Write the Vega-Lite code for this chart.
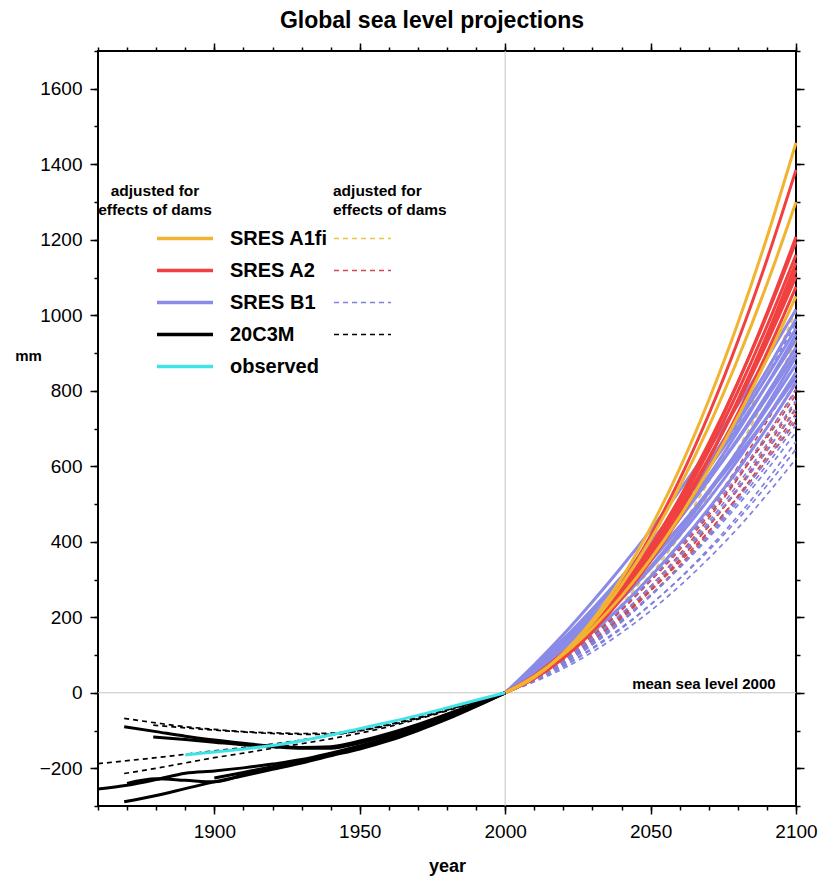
{
  "$schema": "https://vega.github.io/schema/vega-lite/v6.json",
  "width": 698,
  "height": 755,
  "autosize": {"type": "none"},
  "padding": {"left": 98, "top": 51, "right": 40, "bottom": 70},
  "background": "white",
  "title": {"text": "Global sea level projections", "font": "Liberation Sans", "fontSize": 23, "fontWeight": "bold", "color": "black", "anchor": "middle", "dx": -15, "frame": "group", "baseline": "alphabetic", "offset": -9},
  "config": {
    "view": {"stroke": "black", "strokeWidth": 2},
    "axis": {"domain": false, "grid": false, "tickColor": "black", "tickWidth": 1.5, "labelFont": "Liberation Sans", "labelFontSize": 19, "labelColor": "black", "titleFont": "Liberation Sans", "titleColor": "black", "labelFlush": false, "labelOverlap": false}
  },
  "datasets": {
    "solid": [
      {"scenario":"SRES B1","run":"B1a","year":2000,"mm":0},{"scenario":"SRES B1","run":"B1a","year":2010,"mm":74},{"scenario":"SRES B1","run":"B1a","year":2020,"mm":154},{"scenario":"SRES B1","run":"B1a","year":2030,"mm":241},{"scenario":"SRES B1","run":"B1a","year":2040,"mm":333},{"scenario":"SRES B1","run":"B1a","year":2050,"mm":431},{"scenario":"SRES B1","run":"B1a","year":2060,"mm":536},{"scenario":"SRES B1","run":"B1a","year":2070,"mm":647},{"scenario":"SRES B1","run":"B1a","year":2080,"mm":763},{"scenario":"SRES B1","run":"B1a","year":2090,"mm":886},{"scenario":"SRES B1","run":"B1a","year":2100,"mm":1015},
      {"scenario":"SRES B1","run":"B1b","year":2000,"mm":0},{"scenario":"SRES B1","run":"B1b","year":2010,"mm":63},{"scenario":"SRES B1","run":"B1b","year":2020,"mm":135},{"scenario":"SRES B1","run":"B1b","year":2030,"mm":214},{"scenario":"SRES B1","run":"B1b","year":2040,"mm":301},{"scenario":"SRES B1","run":"B1b","year":2050,"mm":396},{"scenario":"SRES B1","run":"B1b","year":2060,"mm":499},{"scenario":"SRES B1","run":"B1b","year":2070,"mm":610},{"scenario":"SRES B1","run":"B1b","year":2080,"mm":729},{"scenario":"SRES B1","run":"B1b","year":2090,"mm":855},{"scenario":"SRES B1","run":"B1b","year":2100,"mm":990},
      {"scenario":"SRES B1","run":"B1c","year":2000,"mm":0},{"scenario":"SRES B1","run":"B1c","year":2010,"mm":66},{"scenario":"SRES B1","run":"B1c","year":2020,"mm":139},{"scenario":"SRES B1","run":"B1c","year":2030,"mm":219},{"scenario":"SRES B1","run":"B1c","year":2040,"mm":305},{"scenario":"SRES B1","run":"B1c","year":2050,"mm":398},{"scenario":"SRES B1","run":"B1c","year":2060,"mm":498},{"scenario":"SRES B1","run":"B1c","year":2070,"mm":605},{"scenario":"SRES B1","run":"B1c","year":2080,"mm":718},{"scenario":"SRES B1","run":"B1c","year":2090,"mm":838},{"scenario":"SRES B1","run":"B1c","year":2100,"mm":965},
      {"scenario":"SRES B1","run":"B1d","year":2000,"mm":0},{"scenario":"SRES B1","run":"B1d","year":2010,"mm":57},{"scenario":"SRES B1","run":"B1d","year":2020,"mm":122},{"scenario":"SRES B1","run":"B1d","year":2030,"mm":195},{"scenario":"SRES B1","run":"B1d","year":2040,"mm":277},{"scenario":"SRES B1","run":"B1d","year":2050,"mm":368},{"scenario":"SRES B1","run":"B1d","year":2060,"mm":467},{"scenario":"SRES B1","run":"B1d","year":2070,"mm":575},{"scenario":"SRES B1","run":"B1d","year":2080,"mm":692},{"scenario":"SRES B1","run":"B1d","year":2090,"mm":817},{"scenario":"SRES B1","run":"B1d","year":2100,"mm":950},
      {"scenario":"SRES B1","run":"B1e","year":2000,"mm":0},{"scenario":"SRES B1","run":"B1e","year":2010,"mm":68},{"scenario":"SRES B1","run":"B1e","year":2020,"mm":142},{"scenario":"SRES B1","run":"B1e","year":2030,"mm":222},{"scenario":"SRES B1","run":"B1e","year":2040,"mm":307},{"scenario":"SRES B1","run":"B1e","year":2050,"mm":397},{"scenario":"SRES B1","run":"B1e","year":2060,"mm":494},{"scenario":"SRES B1","run":"B1e","year":2070,"mm":596},{"scenario":"SRES B1","run":"B1e","year":2080,"mm":703},{"scenario":"SRES B1","run":"B1e","year":2090,"mm":816},{"scenario":"SRES B1","run":"B1e","year":2100,"mm":935},
      {"scenario":"SRES B1","run":"B1f","year":2000,"mm":0},{"scenario":"SRES B1","run":"B1f","year":2010,"mm":59},{"scenario":"SRES B1","run":"B1f","year":2020,"mm":124},{"scenario":"SRES B1","run":"B1f","year":2030,"mm":198},{"scenario":"SRES B1","run":"B1f","year":2040,"mm":278},{"scenario":"SRES B1","run":"B1f","year":2050,"mm":366},{"scenario":"SRES B1","run":"B1f","year":2060,"mm":461},{"scenario":"SRES B1","run":"B1f","year":2070,"mm":564},{"scenario":"SRES B1","run":"B1f","year":2080,"mm":673},{"scenario":"SRES B1","run":"B1f","year":2090,"mm":791},{"scenario":"SRES B1","run":"B1f","year":2100,"mm":915},
      {"scenario":"SRES B1","run":"B1g","year":2000,"mm":0},{"scenario":"SRES B1","run":"B1g","year":2010,"mm":62},{"scenario":"SRES B1","run":"B1g","year":2020,"mm":130},{"scenario":"SRES B1","run":"B1g","year":2030,"mm":204},{"scenario":"SRES B1","run":"B1g","year":2040,"mm":284},{"scenario":"SRES B1","run":"B1g","year":2050,"mm":371},{"scenario":"SRES B1","run":"B1g","year":2060,"mm":464},{"scenario":"SRES B1","run":"B1g","year":2070,"mm":564},{"scenario":"SRES B1","run":"B1g","year":2080,"mm":670},{"scenario":"SRES B1","run":"B1g","year":2090,"mm":782},{"scenario":"SRES B1","run":"B1g","year":2100,"mm":900},
      {"scenario":"SRES B1","run":"B1h","year":2000,"mm":0},{"scenario":"SRES B1","run":"B1h","year":2010,"mm":49},{"scenario":"SRES B1","run":"B1h","year":2020,"mm":107},{"scenario":"SRES B1","run":"B1h","year":2030,"mm":174},{"scenario":"SRES B1","run":"B1h","year":2040,"mm":249},{"scenario":"SRES B1","run":"B1h","year":2050,"mm":334},{"scenario":"SRES B1","run":"B1h","year":2060,"mm":427},{"scenario":"SRES B1","run":"B1h","year":2070,"mm":530},{"scenario":"SRES B1","run":"B1h","year":2080,"mm":641},{"scenario":"SRES B1","run":"B1h","year":2090,"mm":761},{"scenario":"SRES B1","run":"B1h","year":2100,"mm":890},
      {"scenario":"SRES B1","run":"B1i","year":2000,"mm":0},{"scenario":"SRES B1","run":"B1i","year":2010,"mm":56},{"scenario":"SRES B1","run":"B1i","year":2020,"mm":118},{"scenario":"SRES B1","run":"B1i","year":2030,"mm":188},{"scenario":"SRES B1","run":"B1i","year":2040,"mm":264},{"scenario":"SRES B1","run":"B1i","year":2050,"mm":348},{"scenario":"SRES B1","run":"B1i","year":2060,"mm":438},{"scenario":"SRES B1","run":"B1i","year":2070,"mm":536},{"scenario":"SRES B1","run":"B1i","year":2080,"mm":640},{"scenario":"SRES B1","run":"B1i","year":2090,"mm":752},{"scenario":"SRES B1","run":"B1i","year":2100,"mm":870},
      {"scenario":"SRES B1","run":"B1j","year":2000,"mm":0},{"scenario":"SRES B1","run":"B1j","year":2010,"mm":50},{"scenario":"SRES B1","run":"B1j","year":2020,"mm":109},{"scenario":"SRES B1","run":"B1j","year":2030,"mm":174},{"scenario":"SRES B1","run":"B1j","year":2040,"mm":248},{"scenario":"SRES B1","run":"B1j","year":2050,"mm":329},{"scenario":"SRES B1","run":"B1j","year":2060,"mm":417},{"scenario":"SRES B1","run":"B1j","year":2070,"mm":513},{"scenario":"SRES B1","run":"B1j","year":2080,"mm":617},{"scenario":"SRES B1","run":"B1j","year":2090,"mm":729},{"scenario":"SRES B1","run":"B1j","year":2100,"mm":848},
      {"scenario":"SRES B1","run":"B1k","year":2000,"mm":0},{"scenario":"SRES B1","run":"B1k","year":2010,"mm":61},{"scenario":"SRES B1","run":"B1k","year":2020,"mm":127},{"scenario":"SRES B1","run":"B1k","year":2030,"mm":198},{"scenario":"SRES B1","run":"B1k","year":2040,"mm":274},{"scenario":"SRES B1","run":"B1k","year":2050,"mm":355},{"scenario":"SRES B1","run":"B1k","year":2060,"mm":441},{"scenario":"SRES B1","run":"B1k","year":2070,"mm":532},{"scenario":"SRES B1","run":"B1k","year":2080,"mm":628},{"scenario":"SRES B1","run":"B1k","year":2090,"mm":729},{"scenario":"SRES B1","run":"B1k","year":2100,"mm":835},
      {"scenario":"SRES B1","run":"B1l","year":2000,"mm":0},{"scenario":"SRES B1","run":"B1l","year":2010,"mm":45},{"scenario":"SRES B1","run":"B1l","year":2020,"mm":99},{"scenario":"SRES B1","run":"B1l","year":2030,"mm":160},{"scenario":"SRES B1","run":"B1l","year":2040,"mm":230},{"scenario":"SRES B1","run":"B1l","year":2050,"mm":308},{"scenario":"SRES B1","run":"B1l","year":2060,"mm":394},{"scenario":"SRES B1","run":"B1l","year":2070,"mm":488},{"scenario":"SRES B1","run":"B1l","year":2080,"mm":591},{"scenario":"SRES B1","run":"B1l","year":2090,"mm":702},{"scenario":"SRES B1","run":"B1l","year":2100,"mm":821},
      {"scenario":"SRES A2","run":"R1","year":2000,"mm":0},{"scenario":"SRES A2","run":"R1","year":2010,"mm":39},{"scenario":"SRES A2","run":"R1","year":2020,"mm":100},{"scenario":"SRES A2","run":"R1","year":2030,"mm":183},{"scenario":"SRES A2","run":"R1","year":2040,"mm":288},{"scenario":"SRES A2","run":"R1","year":2050,"mm":416},{"scenario":"SRES A2","run":"R1","year":2060,"mm":565},{"scenario":"SRES A2","run":"R1","year":2070,"mm":737},{"scenario":"SRES A2","run":"R1","year":2080,"mm":931},{"scenario":"SRES A2","run":"R1","year":2090,"mm":1147},{"scenario":"SRES A2","run":"R1","year":2100,"mm":1385},
      {"scenario":"SRES A2","run":"R2","year":2000,"mm":0},{"scenario":"SRES A2","run":"R2","year":2010,"mm":39},{"scenario":"SRES A2","run":"R2","year":2020,"mm":97},{"scenario":"SRES A2","run":"R2","year":2030,"mm":172},{"scenario":"SRES A2","run":"R2","year":2040,"mm":266},{"scenario":"SRES A2","run":"R2","year":2050,"mm":378},{"scenario":"SRES A2","run":"R2","year":2060,"mm":507},{"scenario":"SRES A2","run":"R2","year":2070,"mm":655},{"scenario":"SRES A2","run":"R2","year":2080,"mm":821},{"scenario":"SRES A2","run":"R2","year":2090,"mm":1006},{"scenario":"SRES A2","run":"R2","year":2100,"mm":1208},
      {"scenario":"SRES A2","run":"R3","year":2000,"mm":0},{"scenario":"SRES A2","run":"R3","year":2010,"mm":44},{"scenario":"SRES A2","run":"R3","year":2020,"mm":105},{"scenario":"SRES A2","run":"R3","year":2030,"mm":183},{"scenario":"SRES A2","run":"R3","year":2040,"mm":277},{"scenario":"SRES A2","run":"R3","year":2050,"mm":388},{"scenario":"SRES A2","run":"R3","year":2060,"mm":516},{"scenario":"SRES A2","run":"R3","year":2070,"mm":661},{"scenario":"SRES A2","run":"R3","year":2080,"mm":822},{"scenario":"SRES A2","run":"R3","year":2090,"mm":1000},{"scenario":"SRES A2","run":"R3","year":2100,"mm":1195},
      {"scenario":"SRES A2","run":"R4","year":2000,"mm":0},{"scenario":"SRES A2","run":"R4","year":2010,"mm":43},{"scenario":"SRES A2","run":"R4","year":2020,"mm":102},{"scenario":"SRES A2","run":"R4","year":2030,"mm":177},{"scenario":"SRES A2","run":"R4","year":2040,"mm":269},{"scenario":"SRES A2","run":"R4","year":2050,"mm":377},{"scenario":"SRES A2","run":"R4","year":2060,"mm":501},{"scenario":"SRES A2","run":"R4","year":2070,"mm":641},{"scenario":"SRES A2","run":"R4","year":2080,"mm":798},{"scenario":"SRES A2","run":"R4","year":2090,"mm":971},{"scenario":"SRES A2","run":"R4","year":2100,"mm":1160},
      {"scenario":"SRES A2","run":"R5","year":2000,"mm":0},{"scenario":"SRES A2","run":"R5","year":2010,"mm":37},{"scenario":"SRES A2","run":"R5","year":2020,"mm":91},{"scenario":"SRES A2","run":"R5","year":2030,"mm":162},{"scenario":"SRES A2","run":"R5","year":2040,"mm":251},{"scenario":"SRES A2","run":"R5","year":2050,"mm":356},{"scenario":"SRES A2","run":"R5","year":2060,"mm":478},{"scenario":"SRES A2","run":"R5","year":2070,"mm":618},{"scenario":"SRES A2","run":"R5","year":2080,"mm":775},{"scenario":"SRES A2","run":"R5","year":2090,"mm":948},{"scenario":"SRES A2","run":"R5","year":2100,"mm":1139},
      {"scenario":"SRES A2","run":"R6","year":2000,"mm":0},{"scenario":"SRES A2","run":"R6","year":2010,"mm":41},{"scenario":"SRES A2","run":"R6","year":2020,"mm":99},{"scenario":"SRES A2","run":"R6","year":2030,"mm":171},{"scenario":"SRES A2","run":"R6","year":2040,"mm":260},{"scenario":"SRES A2","run":"R6","year":2050,"mm":364},{"scenario":"SRES A2","run":"R6","year":2060,"mm":484},{"scenario":"SRES A2","run":"R6","year":2070,"mm":619},{"scenario":"SRES A2","run":"R6","year":2080,"mm":771},{"scenario":"SRES A2","run":"R6","year":2090,"mm":937},{"scenario":"SRES A2","run":"R6","year":2100,"mm":1120},
      {"scenario":"SRES A2","run":"R7","year":2000,"mm":0},{"scenario":"SRES A2","run":"R7","year":2010,"mm":46},{"scenario":"SRES A2","run":"R7","year":2020,"mm":106},{"scenario":"SRES A2","run":"R7","year":2030,"mm":180},{"scenario":"SRES A2","run":"R7","year":2040,"mm":269},{"scenario":"SRES A2","run":"R7","year":2050,"mm":372},{"scenario":"SRES A2","run":"R7","year":2060,"mm":489},{"scenario":"SRES A2","run":"R7","year":2070,"mm":621},{"scenario":"SRES A2","run":"R7","year":2080,"mm":767},{"scenario":"SRES A2","run":"R7","year":2090,"mm":927},{"scenario":"SRES A2","run":"R7","year":2100,"mm":1102},
      {"scenario":"SRES A2","run":"R8","year":2000,"mm":0},{"scenario":"SRES A2","run":"R8","year":2010,"mm":40},{"scenario":"SRES A2","run":"R8","year":2020,"mm":95},{"scenario":"SRES A2","run":"R8","year":2030,"mm":164},{"scenario":"SRES A2","run":"R8","year":2040,"mm":249},{"scenario":"SRES A2","run":"R8","year":2050,"mm":349},{"scenario":"SRES A2","run":"R8","year":2060,"mm":464},{"scenario":"SRES A2","run":"R8","year":2070,"mm":594},{"scenario":"SRES A2","run":"R8","year":2080,"mm":740},{"scenario":"SRES A2","run":"R8","year":2090,"mm":900},{"scenario":"SRES A2","run":"R8","year":2100,"mm":1075},
      {"scenario":"SRES A1fi","run":"G1","year":2000,"mm":0},{"scenario":"SRES A1fi","run":"G1","year":2010,"mm":41},{"scenario":"SRES A1fi","run":"G1","year":2020,"mm":105},{"scenario":"SRES A1fi","run":"G1","year":2030,"mm":192},{"scenario":"SRES A1fi","run":"G1","year":2040,"mm":303},{"scenario":"SRES A1fi","run":"G1","year":2050,"mm":437},{"scenario":"SRES A1fi","run":"G1","year":2060,"mm":594},{"scenario":"SRES A1fi","run":"G1","year":2070,"mm":775},{"scenario":"SRES A1fi","run":"G1","year":2080,"mm":979},{"scenario":"SRES A1fi","run":"G1","year":2090,"mm":1206},{"scenario":"SRES A1fi","run":"G1","year":2100,"mm":1457},
      {"scenario":"SRES A1fi","run":"G2","year":2000,"mm":0},{"scenario":"SRES A1fi","run":"G2","year":2010,"mm":42},{"scenario":"SRES A1fi","run":"G2","year":2020,"mm":104},{"scenario":"SRES A1fi","run":"G2","year":2030,"mm":185},{"scenario":"SRES A1fi","run":"G2","year":2040,"mm":286},{"scenario":"SRES A1fi","run":"G2","year":2050,"mm":406},{"scenario":"SRES A1fi","run":"G2","year":2060,"mm":546},{"scenario":"SRES A1fi","run":"G2","year":2070,"mm":705},{"scenario":"SRES A1fi","run":"G2","year":2080,"mm":884},{"scenario":"SRES A1fi","run":"G2","year":2090,"mm":1082},{"scenario":"SRES A1fi","run":"G2","year":2100,"mm":1300},
      {"scenario":"SRES A1fi","run":"G3","year":2000,"mm":0},{"scenario":"SRES A1fi","run":"G3","year":2010,"mm":44},{"scenario":"SRES A1fi","run":"G3","year":2020,"mm":101},{"scenario":"SRES A1fi","run":"G3","year":2030,"mm":172},{"scenario":"SRES A1fi","run":"G3","year":2040,"mm":256},{"scenario":"SRES A1fi","run":"G3","year":2050,"mm":354},{"scenario":"SRES A1fi","run":"G3","year":2060,"mm":466},{"scenario":"SRES A1fi","run":"G3","year":2070,"mm":592},{"scenario":"SRES A1fi","run":"G3","year":2080,"mm":731},{"scenario":"SRES A1fi","run":"G3","year":2090,"mm":884},{"scenario":"SRES A1fi","run":"G3","year":2100,"mm":1050},
      {"scenario":"20C3M","run":"H1","year":1869,"mm":-90},{"scenario":"20C3M","run":"H1","year":1880,"mm":-103},{"scenario":"20C3M","run":"H1","year":1890,"mm":-115},{"scenario":"20C3M","run":"H1","year":1900,"mm":-125},{"scenario":"20C3M","run":"H1","year":1910,"mm":-134},{"scenario":"20C3M","run":"H1","year":1920,"mm":-141},{"scenario":"20C3M","run":"H1","year":1930,"mm":-145},{"scenario":"20C3M","run":"H1","year":1940,"mm":-143},{"scenario":"20C3M","run":"H1","year":1950,"mm":-128},{"scenario":"20C3M","run":"H1","year":1960,"mm":-108},{"scenario":"20C3M","run":"H1","year":1970,"mm":-84},{"scenario":"20C3M","run":"H1","year":1980,"mm":-57},{"scenario":"20C3M","run":"H1","year":1990,"mm":-29},{"scenario":"20C3M","run":"H1","year":2000,"mm":0},
      {"scenario":"20C3M","run":"H2","year":1879,"mm":-117},{"scenario":"20C3M","run":"H2","year":1890,"mm":-124},{"scenario":"20C3M","run":"H2","year":1900,"mm":-131},{"scenario":"20C3M","run":"H2","year":1910,"mm":-138},{"scenario":"20C3M","run":"H2","year":1920,"mm":-143},{"scenario":"20C3M","run":"H2","year":1930,"mm":-147},{"scenario":"20C3M","run":"H2","year":1940,"mm":-147},{"scenario":"20C3M","run":"H2","year":1950,"mm":-133},{"scenario":"20C3M","run":"H2","year":1960,"mm":-113},{"scenario":"20C3M","run":"H2","year":1970,"mm":-89},{"scenario":"20C3M","run":"H2","year":1980,"mm":-61},{"scenario":"20C3M","run":"H2","year":1990,"mm":-31},{"scenario":"20C3M","run":"H2","year":2000,"mm":0},
      {"scenario":"20C3M","run":"H3","year":1860,"mm":-255},{"scenario":"20C3M","run":"H3","year":1870,"mm":-245},{"scenario":"20C3M","run":"H3","year":1880,"mm":-230},{"scenario":"20C3M","run":"H3","year":1890,"mm":-213},{"scenario":"20C3M","run":"H3","year":1900,"mm":-207},{"scenario":"20C3M","run":"H3","year":1910,"mm":-199},{"scenario":"20C3M","run":"H3","year":1920,"mm":-189},{"scenario":"20C3M","run":"H3","year":1930,"mm":-177},{"scenario":"20C3M","run":"H3","year":1940,"mm":-160},{"scenario":"20C3M","run":"H3","year":1950,"mm":-141},{"scenario":"20C3M","run":"H3","year":1960,"mm":-119},{"scenario":"20C3M","run":"H3","year":1970,"mm":-93},{"scenario":"20C3M","run":"H3","year":1980,"mm":-65},{"scenario":"20C3M","run":"H3","year":1990,"mm":-33},{"scenario":"20C3M","run":"H3","year":2000,"mm":0},
      {"scenario":"20C3M","run":"H4","year":1870,"mm":-240},{"scenario":"20C3M","run":"H4","year":1880,"mm":-228},{"scenario":"20C3M","run":"H4","year":1890,"mm":-232},{"scenario":"20C3M","run":"H4","year":1900,"mm":-236},{"scenario":"20C3M","run":"H4","year":1910,"mm":-218},{"scenario":"20C3M","run":"H4","year":1920,"mm":-200},{"scenario":"20C3M","run":"H4","year":1930,"mm":-182},{"scenario":"20C3M","run":"H4","year":1940,"mm":-164},{"scenario":"20C3M","run":"H4","year":1950,"mm":-146},{"scenario":"20C3M","run":"H4","year":1960,"mm":-124},{"scenario":"20C3M","run":"H4","year":1970,"mm":-97},{"scenario":"20C3M","run":"H4","year":1980,"mm":-68},{"scenario":"20C3M","run":"H4","year":1990,"mm":-35},{"scenario":"20C3M","run":"H4","year":2000,"mm":0},
      {"scenario":"20C3M","run":"H5","year":1869,"mm":-289},{"scenario":"20C3M","run":"H5","year":1880,"mm":-272},{"scenario":"20C3M","run":"H5","year":1890,"mm":-254},{"scenario":"20C3M","run":"H5","year":1900,"mm":-236},{"scenario":"20C3M","run":"H5","year":1910,"mm":-220},{"scenario":"20C3M","run":"H5","year":1920,"mm":-203},{"scenario":"20C3M","run":"H5","year":1930,"mm":-186},{"scenario":"20C3M","run":"H5","year":1940,"mm":-167},{"scenario":"20C3M","run":"H5","year":1950,"mm":-149},{"scenario":"20C3M","run":"H5","year":1960,"mm":-127},{"scenario":"20C3M","run":"H5","year":1970,"mm":-100},{"scenario":"20C3M","run":"H5","year":1980,"mm":-70},{"scenario":"20C3M","run":"H5","year":1990,"mm":-36},{"scenario":"20C3M","run":"H5","year":2000,"mm":0},
      {"scenario":"20C3M","run":"H6","year":1900,"mm":-226},{"scenario":"20C3M","run":"H6","year":1910,"mm":-211},{"scenario":"20C3M","run":"H6","year":1920,"mm":-196},{"scenario":"20C3M","run":"H6","year":1930,"mm":-180},{"scenario":"20C3M","run":"H6","year":1940,"mm":-162},{"scenario":"20C3M","run":"H6","year":1950,"mm":-144},{"scenario":"20C3M","run":"H6","year":1960,"mm":-122},{"scenario":"20C3M","run":"H6","year":1970,"mm":-96},{"scenario":"20C3M","run":"H6","year":1980,"mm":-67},{"scenario":"20C3M","run":"H6","year":1990,"mm":-34},{"scenario":"20C3M","run":"H6","year":2000,"mm":0},
      {"scenario":"observed","run":"OBS","year":1890,"mm":-165},{"scenario":"observed","run":"OBS","year":1900,"mm":-157},{"scenario":"observed","run":"OBS","year":1910,"mm":-149},{"scenario":"observed","run":"OBS","year":1920,"mm":-140},{"scenario":"observed","run":"OBS","year":1930,"mm":-127},{"scenario":"observed","run":"OBS","year":1940,"mm":-112},{"scenario":"observed","run":"OBS","year":1950,"mm":-95},{"scenario":"observed","run":"OBS","year":1960,"mm":-78},{"scenario":"observed","run":"OBS","year":1970,"mm":-60},{"scenario":"observed","run":"OBS","year":1980,"mm":-40},{"scenario":"observed","run":"OBS","year":1990,"mm":-20},{"scenario":"observed","run":"OBS","year":2000,"mm":0}
    ],
    "dashed": [
      {"scenario":"SRES A1fi","run":"GD1","year":2000,"mm":0},{"scenario":"SRES A1fi","run":"GD1","year":2010,"mm":37},{"scenario":"SRES A1fi","run":"GD1","year":2020,"mm":89},{"scenario":"SRES A1fi","run":"GD1","year":2030,"mm":155},{"scenario":"SRES A1fi","run":"GD1","year":2040,"mm":234},{"scenario":"SRES A1fi","run":"GD1","year":2050,"mm":328},{"scenario":"SRES A1fi","run":"GD1","year":2060,"mm":436},{"scenario":"SRES A1fi","run":"GD1","year":2070,"mm":559},{"scenario":"SRES A1fi","run":"GD1","year":2080,"mm":695},{"scenario":"SRES A1fi","run":"GD1","year":2090,"mm":845},{"scenario":"SRES A1fi","run":"GD1","year":2100,"mm":1010},
      {"scenario":"SRES A1fi","run":"GD2","year":2000,"mm":0},{"scenario":"SRES A1fi","run":"GD2","year":2010,"mm":39},{"scenario":"SRES A1fi","run":"GD2","year":2020,"mm":89},{"scenario":"SRES A1fi","run":"GD2","year":2030,"mm":152},{"scenario":"SRES A1fi","run":"GD2","year":2040,"mm":227},{"scenario":"SRES A1fi","run":"GD2","year":2050,"mm":314},{"scenario":"SRES A1fi","run":"GD2","year":2060,"mm":413},{"scenario":"SRES A1fi","run":"GD2","year":2070,"mm":524},{"scenario":"SRES A1fi","run":"GD2","year":2080,"mm":647},{"scenario":"SRES A1fi","run":"GD2","year":2090,"mm":783},{"scenario":"SRES A1fi","run":"GD2","year":2100,"mm":930},
      {"scenario":"SRES A2","run":"RD1","year":2000,"mm":0},{"scenario":"SRES A2","run":"RD1","year":2010,"mm":39},{"scenario":"SRES A2","run":"RD1","year":2020,"mm":88},{"scenario":"SRES A2","run":"RD1","year":2030,"mm":148},{"scenario":"SRES A2","run":"RD1","year":2040,"mm":218},{"scenario":"SRES A2","run":"RD1","year":2050,"mm":298},{"scenario":"SRES A2","run":"RD1","year":2060,"mm":388},{"scenario":"SRES A2","run":"RD1","year":2070,"mm":488},{"scenario":"SRES A2","run":"RD1","year":2080,"mm":598},{"scenario":"SRES A2","run":"RD1","year":2090,"mm":719},{"scenario":"SRES A2","run":"RD1","year":2100,"mm":850},
      {"scenario":"SRES A2","run":"RD2","year":2000,"mm":0},{"scenario":"SRES A2","run":"RD2","year":2010,"mm":42},{"scenario":"SRES A2","run":"RD2","year":2020,"mm":92},{"scenario":"SRES A2","run":"RD2","year":2030,"mm":152},{"scenario":"SRES A2","run":"RD2","year":2040,"mm":221},{"scenario":"SRES A2","run":"RD2","year":2050,"mm":299},{"scenario":"SRES A2","run":"RD2","year":2060,"mm":386},{"scenario":"SRES A2","run":"RD2","year":2070,"mm":482},{"scenario":"SRES A2","run":"RD2","year":2080,"mm":587},{"scenario":"SRES A2","run":"RD2","year":2090,"mm":702},{"scenario":"SRES A2","run":"RD2","year":2100,"mm":825},
      {"scenario":"SRES A2","run":"RD3","year":2000,"mm":0},{"scenario":"SRES A2","run":"RD3","year":2010,"mm":37},{"scenario":"SRES A2","run":"RD3","year":2020,"mm":84},{"scenario":"SRES A2","run":"RD3","year":2030,"mm":140},{"scenario":"SRES A2","run":"RD3","year":2040,"mm":206},{"scenario":"SRES A2","run":"RD3","year":2050,"mm":282},{"scenario":"SRES A2","run":"RD3","year":2060,"mm":367},{"scenario":"SRES A2","run":"RD3","year":2070,"mm":462},{"scenario":"SRES A2","run":"RD3","year":2080,"mm":567},{"scenario":"SRES A2","run":"RD3","year":2090,"mm":681},{"scenario":"SRES A2","run":"RD3","year":2100,"mm":805},
      {"scenario":"SRES A2","run":"RD4","year":2000,"mm":0},{"scenario":"SRES A2","run":"RD4","year":2010,"mm":43},{"scenario":"SRES A2","run":"RD4","year":2020,"mm":95},{"scenario":"SRES A2","run":"RD4","year":2030,"mm":154},{"scenario":"SRES A2","run":"RD4","year":2040,"mm":221},{"scenario":"SRES A2","run":"RD4","year":2050,"mm":296},{"scenario":"SRES A2","run":"RD4","year":2060,"mm":379},{"scenario":"SRES A2","run":"RD4","year":2070,"mm":470},{"scenario":"SRES A2","run":"RD4","year":2080,"mm":569},{"scenario":"SRES A2","run":"RD4","year":2090,"mm":675},{"scenario":"SRES A2","run":"RD4","year":2100,"mm":790},
      {"scenario":"SRES A2","run":"RD5","year":2000,"mm":0},{"scenario":"SRES A2","run":"RD5","year":2010,"mm":35},{"scenario":"SRES A2","run":"RD5","year":2020,"mm":80},{"scenario":"SRES A2","run":"RD5","year":2030,"mm":134},{"scenario":"SRES A2","run":"RD5","year":2040,"mm":197},{"scenario":"SRES A2","run":"RD5","year":2050,"mm":270},{"scenario":"SRES A2","run":"RD5","year":2060,"mm":351},{"scenario":"SRES A2","run":"RD5","year":2070,"mm":442},{"scenario":"SRES A2","run":"RD5","year":2080,"mm":542},{"scenario":"SRES A2","run":"RD5","year":2090,"mm":651},{"scenario":"SRES A2","run":"RD5","year":2100,"mm":770},
      {"scenario":"SRES A2","run":"RD6","year":2000,"mm":0},{"scenario":"SRES A2","run":"RD6","year":2010,"mm":38},{"scenario":"SRES A2","run":"RD6","year":2020,"mm":85},{"scenario":"SRES A2","run":"RD6","year":2030,"mm":139},{"scenario":"SRES A2","run":"RD6","year":2040,"mm":202},{"scenario":"SRES A2","run":"RD6","year":2050,"mm":274},{"scenario":"SRES A2","run":"RD6","year":2060,"mm":353},{"scenario":"SRES A2","run":"RD6","year":2070,"mm":441},{"scenario":"SRES A2","run":"RD6","year":2080,"mm":538},{"scenario":"SRES A2","run":"RD6","year":2090,"mm":642},{"scenario":"SRES A2","run":"RD6","year":2100,"mm":755},
      {"scenario":"SRES A2","run":"RD7","year":2000,"mm":0},{"scenario":"SRES A2","run":"RD7","year":2010,"mm":34},{"scenario":"SRES A2","run":"RD7","year":2020,"mm":77},{"scenario":"SRES A2","run":"RD7","year":2030,"mm":129},{"scenario":"SRES A2","run":"RD7","year":2040,"mm":189},{"scenario":"SRES A2","run":"RD7","year":2050,"mm":259},{"scenario":"SRES A2","run":"RD7","year":2060,"mm":337},{"scenario":"SRES A2","run":"RD7","year":2070,"mm":425},{"scenario":"SRES A2","run":"RD7","year":2080,"mm":521},{"scenario":"SRES A2","run":"RD7","year":2090,"mm":626},{"scenario":"SRES A2","run":"RD7","year":2100,"mm":740},
      {"scenario":"SRES A2","run":"RD8","year":2000,"mm":0},{"scenario":"SRES A2","run":"RD8","year":2010,"mm":40},{"scenario":"SRES A2","run":"RD8","year":2020,"mm":86},{"scenario":"SRES A2","run":"RD8","year":2030,"mm":140},{"scenario":"SRES A2","run":"RD8","year":2040,"mm":202},{"scenario":"SRES A2","run":"RD8","year":2050,"mm":270},{"scenario":"SRES A2","run":"RD8","year":2060,"mm":346},{"scenario":"SRES A2","run":"RD8","year":2070,"mm":428},{"scenario":"SRES A2","run":"RD8","year":2080,"mm":518},{"scenario":"SRES A2","run":"RD8","year":2090,"mm":616},{"scenario":"SRES A2","run":"RD8","year":2100,"mm":720},
      {"scenario":"SRES B1","run":"BD1","year":2000,"mm":0},{"scenario":"SRES B1","run":"BD1","year":2010,"mm":58},{"scenario":"SRES B1","run":"BD1","year":2020,"mm":125},{"scenario":"SRES B1","run":"BD1","year":2030,"mm":201},{"scenario":"SRES B1","run":"BD1","year":2040,"mm":286},{"scenario":"SRES B1","run":"BD1","year":2050,"mm":380},{"scenario":"SRES B1","run":"BD1","year":2060,"mm":482},{"scenario":"SRES B1","run":"BD1","year":2070,"mm":593},{"scenario":"SRES B1","run":"BD1","year":2080,"mm":713},{"scenario":"SRES B1","run":"BD1","year":2090,"mm":842},{"scenario":"SRES B1","run":"BD1","year":2100,"mm":980},
      {"scenario":"SRES B1","run":"BD2","year":2000,"mm":0},{"scenario":"SRES B1","run":"BD2","year":2010,"mm":44},{"scenario":"SRES B1","run":"BD2","year":2020,"mm":96},{"scenario":"SRES B1","run":"BD2","year":2030,"mm":156},{"scenario":"SRES B1","run":"BD2","year":2040,"mm":224},{"scenario":"SRES B1","run":"BD2","year":2050,"mm":300},{"scenario":"SRES B1","run":"BD2","year":2060,"mm":384},{"scenario":"SRES B1","run":"BD2","year":2070,"mm":476},{"scenario":"SRES B1","run":"BD2","year":2080,"mm":576},{"scenario":"SRES B1","run":"BD2","year":2090,"mm":684},{"scenario":"SRES B1","run":"BD2","year":2100,"mm":800},
      {"scenario":"SRES B1","run":"BD3","year":2000,"mm":0},{"scenario":"SRES B1","run":"BD3","year":2010,"mm":39},{"scenario":"SRES B1","run":"BD3","year":2020,"mm":87},{"scenario":"SRES B1","run":"BD3","year":2030,"mm":143},{"scenario":"SRES B1","run":"BD3","year":2040,"mm":208},{"scenario":"SRES B1","run":"BD3","year":2050,"mm":281},{"scenario":"SRES B1","run":"BD3","year":2060,"mm":363},{"scenario":"SRES B1","run":"BD3","year":2070,"mm":453},{"scenario":"SRES B1","run":"BD3","year":2080,"mm":552},{"scenario":"SRES B1","run":"BD3","year":2090,"mm":659},{"scenario":"SRES B1","run":"BD3","year":2100,"mm":775},
      {"scenario":"SRES B1","run":"BD4","year":2000,"mm":0},{"scenario":"SRES B1","run":"BD4","year":2010,"mm":41},{"scenario":"SRES B1","run":"BD4","year":2020,"mm":90},{"scenario":"SRES B1","run":"BD4","year":2030,"mm":146},{"scenario":"SRES B1","run":"BD4","year":2040,"mm":210},{"scenario":"SRES B1","run":"BD4","year":2050,"mm":281},{"scenario":"SRES B1","run":"BD4","year":2060,"mm":360},{"scenario":"SRES B1","run":"BD4","year":2070,"mm":446},{"scenario":"SRES B1","run":"BD4","year":2080,"mm":540},{"scenario":"SRES B1","run":"BD4","year":2090,"mm":641},{"scenario":"SRES B1","run":"BD4","year":2100,"mm":750},
      {"scenario":"SRES B1","run":"BD5","year":2000,"mm":0},{"scenario":"SRES B1","run":"BD5","year":2010,"mm":34},{"scenario":"SRES B1","run":"BD5","year":2020,"mm":76},{"scenario":"SRES B1","run":"BD5","year":2030,"mm":127},{"scenario":"SRES B1","run":"BD5","year":2040,"mm":187},{"scenario":"SRES B1","run":"BD5","year":2050,"mm":256},{"scenario":"SRES B1","run":"BD5","year":2060,"mm":333},{"scenario":"SRES B1","run":"BD5","year":2070,"mm":419},{"scenario":"SRES B1","run":"BD5","year":2080,"mm":514},{"scenario":"SRES B1","run":"BD5","year":2090,"mm":618},{"scenario":"SRES B1","run":"BD5","year":2100,"mm":730},
      {"scenario":"SRES B1","run":"BD6","year":2000,"mm":0},{"scenario":"SRES B1","run":"BD6","year":2010,"mm":36},{"scenario":"SRES B1","run":"BD6","year":2020,"mm":80},{"scenario":"SRES B1","run":"BD6","year":2030,"mm":131},{"scenario":"SRES B1","run":"BD6","year":2040,"mm":190},{"scenario":"SRES B1","run":"BD6","year":2050,"mm":257},{"scenario":"SRES B1","run":"BD6","year":2060,"mm":332},{"scenario":"SRES B1","run":"BD6","year":2070,"mm":415},{"scenario":"SRES B1","run":"BD6","year":2080,"mm":506},{"scenario":"SRES B1","run":"BD6","year":2090,"mm":604},{"scenario":"SRES B1","run":"BD6","year":2100,"mm":710},
      {"scenario":"SRES B1","run":"BD7","year":2000,"mm":0},{"scenario":"SRES B1","run":"BD7","year":2010,"mm":38},{"scenario":"SRES B1","run":"BD7","year":2020,"mm":83},{"scenario":"SRES B1","run":"BD7","year":2030,"mm":135},{"scenario":"SRES B1","run":"BD7","year":2040,"mm":193},{"scenario":"SRES B1","run":"BD7","year":2050,"mm":259},{"scenario":"SRES B1","run":"BD7","year":2060,"mm":331},{"scenario":"SRES B1","run":"BD7","year":2070,"mm":411},{"scenario":"SRES B1","run":"BD7","year":2080,"mm":497},{"scenario":"SRES B1","run":"BD7","year":2090,"mm":590},{"scenario":"SRES B1","run":"BD7","year":2100,"mm":690},
      {"scenario":"SRES B1","run":"BD8","year":2000,"mm":0},{"scenario":"SRES B1","run":"BD8","year":2010,"mm":31},{"scenario":"SRES B1","run":"BD8","year":2020,"mm":69},{"scenario":"SRES B1","run":"BD8","year":2030,"mm":116},{"scenario":"SRES B1","run":"BD8","year":2040,"mm":170},{"scenario":"SRES B1","run":"BD8","year":2050,"mm":233},{"scenario":"SRES B1","run":"BD8","year":2060,"mm":303},{"scenario":"SRES B1","run":"BD8","year":2070,"mm":382},{"scenario":"SRES B1","run":"BD8","year":2080,"mm":468},{"scenario":"SRES B1","run":"BD8","year":2090,"mm":563},{"scenario":"SRES B1","run":"BD8","year":2100,"mm":665},
      {"scenario":"SRES B1","run":"BD9","year":2000,"mm":0},{"scenario":"SRES B1","run":"BD9","year":2010,"mm":33},{"scenario":"SRES B1","run":"BD9","year":2020,"mm":72},{"scenario":"SRES B1","run":"BD9","year":2030,"mm":119},{"scenario":"SRES B1","run":"BD9","year":2040,"mm":173},{"scenario":"SRES B1","run":"BD9","year":2050,"mm":234},{"scenario":"SRES B1","run":"BD9","year":2060,"mm":302},{"scenario":"SRES B1","run":"BD9","year":2070,"mm":377},{"scenario":"SRES B1","run":"BD9","year":2080,"mm":459},{"scenario":"SRES B1","run":"BD9","year":2090,"mm":549},{"scenario":"SRES B1","run":"BD9","year":2100,"mm":645},
      {"scenario":"SRES B1","run":"BD10","year":2000,"mm":0},{"scenario":"SRES B1","run":"BD10","year":2010,"mm":29},{"scenario":"SRES B1","run":"BD10","year":2020,"mm":64},{"scenario":"SRES B1","run":"BD10","year":2030,"mm":108},{"scenario":"SRES B1","run":"BD10","year":2040,"mm":159},{"scenario":"SRES B1","run":"BD10","year":2050,"mm":217},{"scenario":"SRES B1","run":"BD10","year":2060,"mm":283},{"scenario":"SRES B1","run":"BD10","year":2070,"mm":356},{"scenario":"SRES B1","run":"BD10","year":2080,"mm":436},{"scenario":"SRES B1","run":"BD10","year":2090,"mm":525},{"scenario":"SRES B1","run":"BD10","year":2100,"mm":620},
      {"scenario":"20C3M","run":"HD1","year":1869,"mm":-68},{"scenario":"20C3M","run":"HD1","year":1880,"mm":-80},{"scenario":"20C3M","run":"HD1","year":1890,"mm":-90},{"scenario":"20C3M","run":"HD1","year":1900,"mm":-97},{"scenario":"20C3M","run":"HD1","year":1910,"mm":-103},{"scenario":"20C3M","run":"HD1","year":1920,"mm":-106},{"scenario":"20C3M","run":"HD1","year":1930,"mm":-108},{"scenario":"20C3M","run":"HD1","year":1940,"mm":-107},{"scenario":"20C3M","run":"HD1","year":1950,"mm":-98},{"scenario":"20C3M","run":"HD1","year":1960,"mm":-84},{"scenario":"20C3M","run":"HD1","year":1970,"mm":-66},{"scenario":"20C3M","run":"HD1","year":1980,"mm":-45},{"scenario":"20C3M","run":"HD1","year":1990,"mm":-23},{"scenario":"20C3M","run":"HD1","year":2000,"mm":0},
      {"scenario":"20C3M","run":"HD2","year":1879,"mm":-86},{"scenario":"20C3M","run":"HD2","year":1890,"mm":-93},{"scenario":"20C3M","run":"HD2","year":1900,"mm":-99},{"scenario":"20C3M","run":"HD2","year":1910,"mm":-104},{"scenario":"20C3M","run":"HD2","year":1920,"mm":-108},{"scenario":"20C3M","run":"HD2","year":1930,"mm":-110},{"scenario":"20C3M","run":"HD2","year":1940,"mm":-110},{"scenario":"20C3M","run":"HD2","year":1950,"mm":-101},{"scenario":"20C3M","run":"HD2","year":1960,"mm":-86},{"scenario":"20C3M","run":"HD2","year":1970,"mm":-68},{"scenario":"20C3M","run":"HD2","year":1980,"mm":-46},{"scenario":"20C3M","run":"HD2","year":1990,"mm":-24},{"scenario":"20C3M","run":"HD2","year":2000,"mm":0},
      {"scenario":"20C3M","run":"HD3","year":1860,"mm":-188},{"scenario":"20C3M","run":"HD3","year":1870,"mm":-180},{"scenario":"20C3M","run":"HD3","year":1880,"mm":-172},{"scenario":"20C3M","run":"HD3","year":1890,"mm":-163},{"scenario":"20C3M","run":"HD3","year":1900,"mm":-154},{"scenario":"20C3M","run":"HD3","year":1910,"mm":-145},{"scenario":"20C3M","run":"HD3","year":1920,"mm":-136},{"scenario":"20C3M","run":"HD3","year":1930,"mm":-125},{"scenario":"20C3M","run":"HD3","year":1940,"mm":-113},{"scenario":"20C3M","run":"HD3","year":1950,"mm":-100},{"scenario":"20C3M","run":"HD3","year":1960,"mm":-84},{"scenario":"20C3M","run":"HD3","year":1970,"mm":-65},{"scenario":"20C3M","run":"HD3","year":1980,"mm":-45},{"scenario":"20C3M","run":"HD3","year":1990,"mm":-23},{"scenario":"20C3M","run":"HD3","year":2000,"mm":0},
      {"scenario":"20C3M","run":"HD4","year":1869,"mm":-214},{"scenario":"20C3M","run":"HD4","year":1880,"mm":-200},{"scenario":"20C3M","run":"HD4","year":1890,"mm":-186},{"scenario":"20C3M","run":"HD4","year":1900,"mm":-172},{"scenario":"20C3M","run":"HD4","year":1910,"mm":-160},{"scenario":"20C3M","run":"HD4","year":1920,"mm":-147},{"scenario":"20C3M","run":"HD4","year":1930,"mm":-135},{"scenario":"20C3M","run":"HD4","year":1940,"mm":-122},{"scenario":"20C3M","run":"HD4","year":1950,"mm":-107},{"scenario":"20C3M","run":"HD4","year":1960,"mm":-90},{"scenario":"20C3M","run":"HD4","year":1970,"mm":-70},{"scenario":"20C3M","run":"HD4","year":1980,"mm":-48},{"scenario":"20C3M","run":"HD4","year":1990,"mm":-25},{"scenario":"20C3M","run":"HD4","year":2000,"mm":0}
    ]
  },
  "resolve": {"scale": {"color": "independent"}, "axis": {"x": "independent", "y": "independent"}},
  "layer": [
    {
      "data": {"values": [{}]},
      "mark": {"type": "rule", "color": "#c4c4c4", "strokeWidth": 1},
      "encoding": {
        "x": {"datum": 2000, "type": "quantitative", "scale": {"domain": [1860, 2100], "nice": false, "zero": false},
          "axis": {"orient": "bottom", "values": [1900, 1950, 2000, 2050, 2100], "format": "d", "tickSize": 8, "labelPadding": 8, "title": "year", "titleFontSize": 18, "titleFontWeight": "bold", "titleY": 60, "titleBaseline": "middle"}}
      }
    },
    {
      "data": {"values": [{}]},
      "mark": {"type": "rule", "color": "#c4c4c4", "strokeWidth": 1},
      "encoding": {
        "y": {"datum": 0, "type": "quantitative", "scale": {"domain": [-300, 1700], "nice": false, "zero": false},
          "axis": {"orient": "left", "values": [-200, 0, 200, 400, 600, 800, 1000, 1200, 1400, 1600], "format": "d", "tickSize": 8, "labelPadding": 8, "title": "mm", "titleAngle": 0, "titleX": -70, "titleY": 304, "titleAlign": "center", "titleBaseline": "middle", "titleFontSize": 15, "titleFontWeight": "bold"}}
      }
    },
    {
      "data": {"name": "dashed"},
      "mark": {"type": "line", "strokeWidth": 1.7, "strokeDash": [5, 4], "interpolate": "monotone"},
      "encoding": {
        "x": {"field": "year", "type": "quantitative", "scale": {"domain": [1860, 2100], "nice": false, "zero": false},
          "axis": {"orient": "bottom", "values": [1860, 1870, 1880, 1890, 1900, 1910, 1920, 1930, 1940, 1950, 1960, 1970, 1980, 1990, 2000, 2010, 2020, 2030, 2040, 2050, 2060, 2070, 2080, 2090, 2100], "tickSize": 4, "labels": false, "title": null}},
        "y": {"field": "mm", "type": "quantitative", "scale": {"domain": [-300, 1700], "nice": false, "zero": false},
          "axis": {"orient": "left", "values": [-300, -200, -100, 0, 100, 200, 300, 400, 500, 600, 700, 800, 900, 1000, 1100, 1200, 1300, 1400, 1500, 1600, 1700], "tickSize": 4, "labels": false, "title": null}},
        "color": {"field": "scenario", "type": "nominal",
          "scale": {"domain": ["SRES A1fi", "SRES A2", "SRES B1", "20C3M"], "range": ["#f0c040", "#d44848", "#8080e0", "#000000"]},
          "legend": {"orient": "none", "legendX": 235, "legendY": 133, "padding": 0, "title": ["adjusted for", "effects of dams"], "titleAnchor": "start", "titleAlign": "left", "titleFont": "Liberation Sans", "titleFontSize": 15.5, "titleFontWeight": "bold", "titleColor": "black", "titleLineHeight": 19, "titlePadding": 8, "symbolType": "stroke", "symbolSize": 3249, "symbolStrokeWidth": 1.5, "symbolDash": [5, 4], "clipHeight": 24, "rowPadding": 8, "labelExpr": "''"}},
        "detail": {"field": "run"}
      }
    },
    {
      "data": {"name": "solid"},
      "mark": {"type": "line", "strokeWidth": 3, "interpolate": "monotone"},
      "encoding": {
        "x": {"field": "year", "type": "quantitative", "scale": {"domain": [1860, 2100], "nice": false, "zero": false},
          "axis": {"orient": "top", "values": [1900, 1950, 2000, 2050, 2100], "tickSize": 8, "labels": false, "title": null}},
        "y": {"field": "mm", "type": "quantitative", "scale": {"domain": [-300, 1700], "nice": false, "zero": false},
          "axis": {"orient": "right", "values": [-200, 0, 200, 400, 600, 800, 1000, 1200, 1400, 1600], "tickSize": 8, "labels": false, "title": null}},
        "color": {"field": "scenario", "type": "nominal",
          "scale": {"domain": ["SRES A1fi", "SRES A2", "SRES B1", "20C3M", "observed"], "range": ["#f0b430", "#f04040", "#8a8ae8", "#000000", "#40e4e8"]},
          "legend": {"orient": "none", "legendX": 0, "legendY": 133, "padding": 0, "title": ["adjusted for", "effects of dams"], "titleAnchor": "start", "titleAlign": "center", "titleFont": "Liberation Sans", "titleFontSize": 15.5, "titleFontWeight": "bold", "titleColor": "black", "titleLineHeight": 19, "titlePadding": 8, "symbolType": "stroke", "symbolSize": 3136, "symbolStrokeWidth": 3.5, "clipHeight": 24, "rowPadding": 8, "labelOffset": 15, "labelFont": "Liberation Sans", "labelFontSize": 20, "labelFontWeight": "bold", "labelColor": "black", "labelLimit": 0}},
        "detail": {"field": "run"}
      }
    },
    {
      "data": {"values": [{}]},
      "mark": {"type": "text", "text": "mean sea level 2000", "font": "Liberation Sans", "fontSize": 15, "fontWeight": "bold", "color": "black", "align": "right", "baseline": "alphabetic", "dy": -4},
      "encoding": {
        "x": {"datum": 2093, "type": "quantitative", "scale": {"domain": [1860, 2100], "nice": false, "zero": false},
          "axis": {"orient": "top", "values": [1860, 1870, 1880, 1890, 1900, 1910, 1920, 1930, 1940, 1950, 1960, 1970, 1980, 1990, 2000, 2010, 2020, 2030, 2040, 2050, 2060, 2070, 2080, 2090, 2100], "tickSize": 4, "labels": false, "title": null}},
        "y": {"datum": 0, "type": "quantitative", "scale": {"domain": [-300, 1700], "nice": false, "zero": false},
          "axis": {"orient": "right", "values": [-300, -200, -100, 0, 100, 200, 300, 400, 500, 600, 700, 800, 900, 1000, 1100, 1200, 1300, 1400, 1500, 1600, 1700], "tickSize": 4, "labels": false, "title": null}}
      }
    }
  ]
}
